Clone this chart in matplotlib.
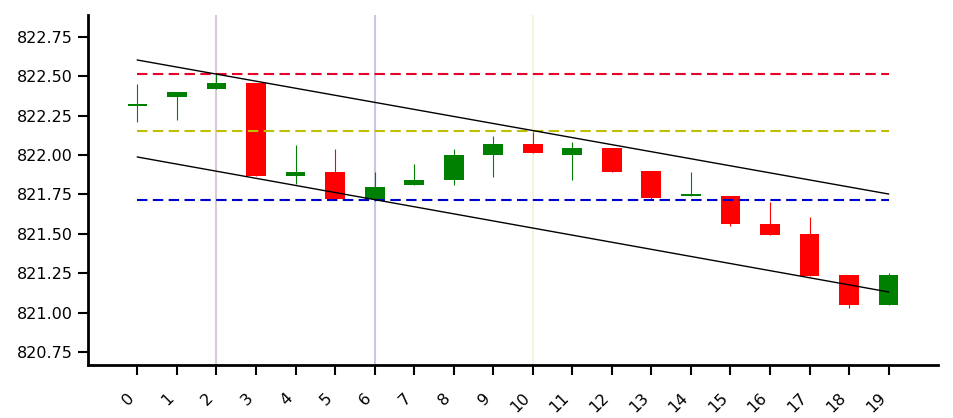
import matplotlib
matplotlib.use("Agg")
import matplotlib.pyplot as plt

idx = list(range(20))
opens  = [822.31, 822.37, 822.42, 822.46, 821.87, 821.89, 821.72, 821.81, 821.84, 822.00, 822.07, 822.00, 822.045, 821.90, 821.74, 821.74, 821.565, 821.50, 821.24, 821.045]
closes = [822.32, 822.40, 822.46, 821.87, 821.89, 821.72, 821.80, 821.84, 822.00, 822.07, 822.015, 822.045, 821.895, 821.73, 821.75, 821.565, 821.495, 821.235, 821.045, 821.24]
highs  = [822.45, 822.40, 822.52, 822.46, 822.065, 822.04, 821.89, 821.945, 822.04, 822.12, 822.15, 822.085, 822.045, 821.90, 821.895, 821.74, 821.705, 821.605, 821.24, 821.25]
lows   = [822.21, 822.225, 822.42, 821.87, 821.815, 821.72, 821.71, 821.81, 821.81, 821.86, 822.015, 821.84, 821.895, 821.72, 821.74, 821.55, 821.495, 821.235, 821.03, 821.045]

hlines = [822.515, 822.155, 821.718]
hline_colors = ['#e8002a', '#bfbf00', '#0000cc']
vlines = [2, 6, 10]
vline_colors = ['#d9c9d9', '#c8c8e6', '#f3f3e2']
upper_trend = [822.604, 821.753]
lower_trend = [821.988, 821.131]
trend_x = [0, 19]

fig = plt.figure(figsize=(9.54, 4.18), dpi=100)
ax = fig.add_axes([88/954, 53/418, 850/954, 350/418])

for x, c in zip(vlines, vline_colors):
    ax.axvline(x, color=c, lw=1.5, zorder=0)

for i, o, c, h, l in zip(idx, opens, closes, highs, lows):
    col = 'green' if c >= o else 'red'
    ax.vlines(i, l, h, color=col, lw=0.8, zorder=2)
    bottom = min(o, c)
    height = max(abs(c - o), 0.012)
    ax.bar(i, height, bottom=bottom, width=0.5, color=col, zorder=3)

for v, c in zip(hlines, hline_colors):
    ax.plot([0, 19], [v, v], color=c, lw=1.5, ls=(0, (5, 2.6)), zorder=4)

ax.plot(trend_x, upper_trend, color='black', lw=1, zorder=5)
ax.plot(trend_x, lower_trend, color='black', lw=1, zorder=5)

ax.set_xlim(-1.25, 20.25)
ax.set_ylim(820.667, 822.89)
ax.set_xticks(idx)
ax.set_xticklabels([str(i) for i in idx], rotation=45, ha='right')
ax.set_yticks([820.75, 821.0, 821.25, 821.5, 821.75, 822.0, 822.25, 822.5, 822.75])
ax.set_yticklabels(['820.75', '821.00', '821.25', '821.50', '821.75', '822.00', '822.25', '822.50', '822.75'])
for s in ['top', 'right']:
    ax.spines[s].set_visible(False)
for s in ['left', 'bottom']:
    ax.spines[s].set_linewidth(2)
ax.tick_params(axis='both', length=7, width=1.5, labelsize=11.5)
ax.tick_params(axis='x', pad=11)
ax.tick_params(axis='y', pad=4)

fig.savefig('out.png', dpi=100)
